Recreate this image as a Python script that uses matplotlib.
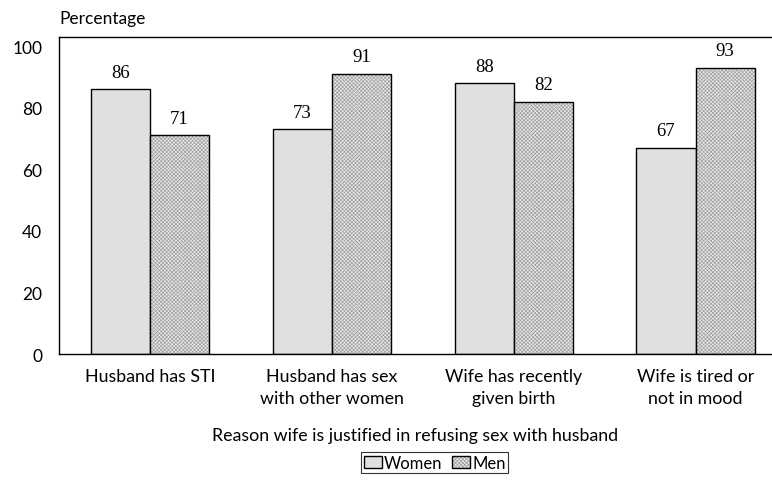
import numpy as np
import matplotlib
matplotlib.use('Agg')
import matplotlib.pyplot as plt

categories = ['Husband has STI', 'Husband has sex\nwith other women',
              'Wife has recently\ngiven birth', 'Wife is tired or\nnot in mood']
women = [86, 73, 88, 67]
men = [71, 91, 82, 93]
yticks = [0, 20, 40, 60, 80, 100]

plt.rcParams['font.family'] = ['Lato', 'DejaVu Sans']
plt.rcParams['hatch.linewidth'] = 0.5

fig = plt.figure(figsize=(7.72, 5.02), dpi=100)
ax = fig.add_axes([0.0764, 0.2928, 0.9236, 0.6315])

x = np.arange(len(categories))
w = 0.325
b1 = ax.bar(x - w / 2, women, w, color='#e0e0e0', edgecolor='black',
            linewidth=1, label='Women')
# hatch takes the edge colour, so draw the texture and the outline apart
b2 = ax.bar(x + w / 2, men, w, color='#e8e8e8', edgecolor='#a0a0a0',
            linewidth=0, hatch='xxxxxxxxx')
b2o = ax.bar(x + w / 2, men, w, fill=False, edgecolor='black', linewidth=1)

for bars in (b1, b2):
    for r in bars:
        ax.text(r.get_x() + r.get_width() / 2, r.get_height() + 2.8,
                '%d' % r.get_height(), ha='center', va='bottom',
                fontsize=13.5, family='Liberation Serif')

ax.set_xlim(-0.5, 3.42)
ax.set_ylim(0, 103)
ax.set_yticks(yticks)
ax.set_xticks(x)
ax.set_xticklabels(categories, fontsize=12.8, linespacing=1.5)
ax.tick_params(axis='y', length=0, labelsize=12.5, pad=12)
ax.tick_params(axis='x', length=0, pad=10)
ax.spines['right'].set_visible(False)
for s in ('left', 'top', 'bottom'):
    ax.spines[s].set_linewidth(1)

ax.set_xlabel('Reason wife is justified in refusing sex with husband',
              fontsize=12.8, labelpad=15)
fig.text(0.077, 0.962, 'Percentage', fontsize=12.5, va='center')

leg = fig.legend([b1[0], (b2[0], b2o[0])], ['Women', 'Men'],
                 loc='center', bbox_to_anchor=(0.563, 0.076), ncol=2,
                 fontsize=12, frameon=True, fancybox=False,
                 edgecolor='black', handlelength=1.1, handleheight=0.8,
                 handletextpad=0.1, columnspacing=0.6, borderpad=0.15,
                 borderaxespad=0)
leg.get_frame().set_linewidth(0.8)

fig.savefig('out.png', dpi=100)
